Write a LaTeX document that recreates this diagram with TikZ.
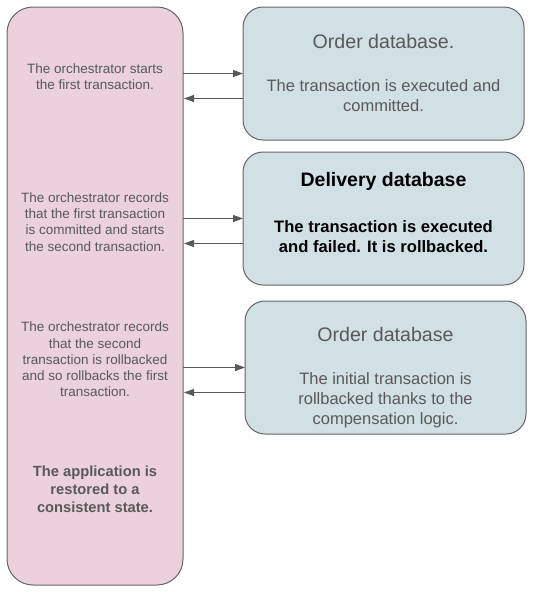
\documentclass[tikz,border=0pt]{standalone}
\usepackage{fontspec}
\setmainfont{Liberation Sans}
\usetikzlibrary{positioning,arrows.meta}
\definecolor{orchfill}{HTML}{EAD1DC}
\definecolor{dbfill}{HTML}{D0E0E3}
\definecolor{boxline}{HTML}{666666}
\definecolor{txtgray}{HTML}{595959}

\begin{document}
\begin{tikzpicture}[x=1pt,y=1pt,
  box/.style={draw=boxline,line width=1pt,outer sep=0pt,inner sep=0pt},
  dbbox/.style={box,fill=dbfill,minimum width=281pt,minimum height=133pt,rounded corners=20pt},
  steptext/.style={align=center,text=txtgray,inner sep=0pt,font=\fontsize{13.5}{16.3}\selectfont},
  dbtitle/.style={align=center,text=txtgray,inner sep=0pt,font=\fontsize{19.6}{22}\selectfont},
  dbtext/.style={align=center,text=txtgray,inner sep=0pt,font=\fontsize{16.5}{20}\selectfont},
  arr/.style={draw=txtgray,line width=1pt,-{Triangle[length=10pt,width=7pt]}}]
\useasboundingbox (0,0) rectangle (533,-592);
% Orchestrator column and the three database steps
\node[box,fill=orchfill,minimum width=176pt,minimum height=578pt,rounded corners=26pt] (orch) at (95,-296) {};
\node[dbbox,right=60pt of orch.north east,anchor=north west] (db1) {};
\node[dbbox,below=12pt of db1] (db2) {};
\node[dbbox,below=16pt of db2,xshift=2pt] (db3) {};
% Texts of the orchestrator
\node[steptext] (s1) at (95,-76.5) {The orchestrator starts\\the first transaction.};
\node[steptext] (s2) at (95,-222) {The orchestrator records\\that the first transaction\\is committed and starts\\the second transaction.};
\node[steptext] (s3) at (95,-359.5) {The orchestrator records\\that the second\\transaction is rollbacked\\and so rollbacks the first\\transaction.};
\node[steptext,font=\fontsize{14.7}{18}\selectfont\bfseries] (s4) at (95,-489) {The application is\\restored to a\\consistent state.};
% Texts of the databases
\node[dbtitle] (t1) at ([yshift=-34pt]db1.north) {Order database.};
\node[dbtext] (b1) at ([yshift=-89pt]db1.north) {The transaction is executed and\\committed.};
\node[dbtitle,text=black,font=\fontsize{19.5}{22}\selectfont\bfseries] (t2) at ([yshift=-29pt]db2.north) {Delivery database};
\node[dbtext,text=black,font=\fontsize{16.6}{20}\selectfont\bfseries] (b2) at ([yshift=-85pt]db2.north) {The transaction is executed\\and failed. It is rollbacked.};
\node[dbtitle] (t3) at ([yshift=-33pt]db3.north) {Order database};
\node[dbtext] (b3) at ([yshift=-99pt]db3.north) {The initial transaction is\\rollbacked thanks to the\\compensation logic.};
% Calls and answers
\foreach \db in {db1,db2,db3} {
  \coordinate (\db-back) at ([yshift=-25pt]\db.west);
  \draw[arr] (orch.east |- \db.west) -- (\db.west);
  \draw[arr] (\db-back) -- ([xshift=1pt]orch.east |- \db-back);
}
\end{tikzpicture}
\end{document}
